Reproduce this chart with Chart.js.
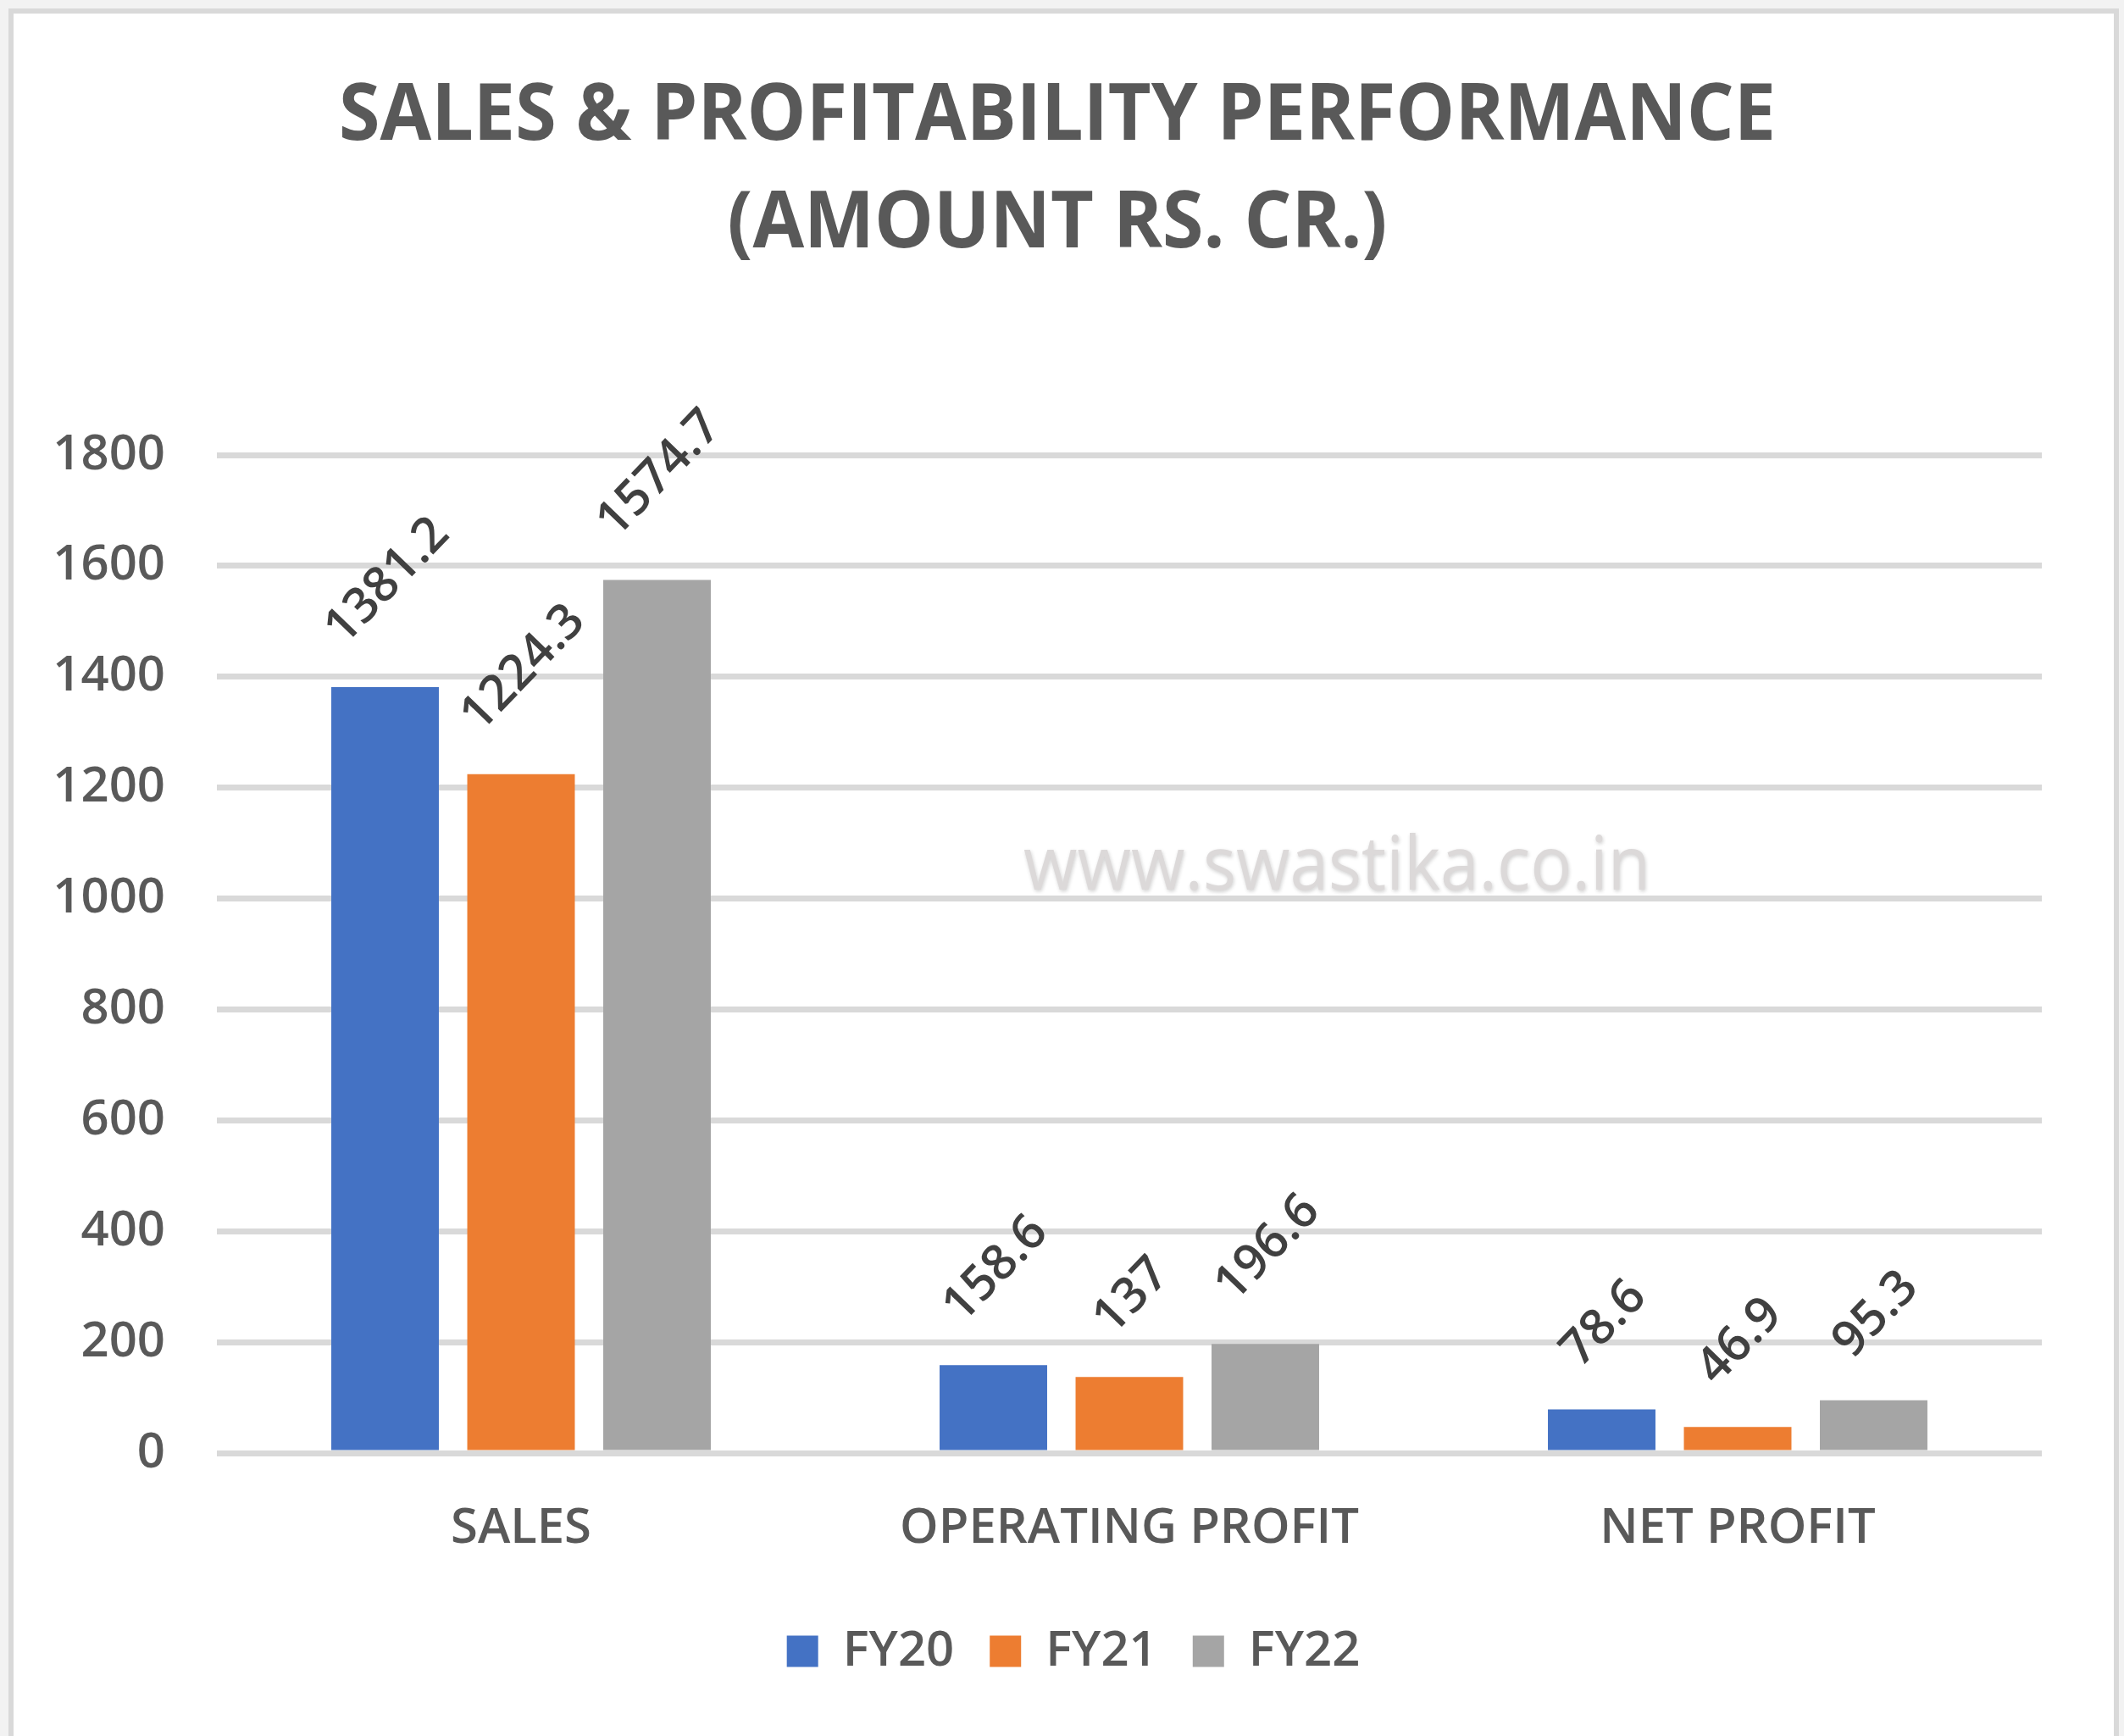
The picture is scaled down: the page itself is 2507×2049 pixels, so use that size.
<!DOCTYPE html>
<html><head><meta charset="utf-8">
<script src="https://cdn.jsdelivr.net/npm/chart.js@4.4.0/dist/chart.umd.min.js"></script>
<style>
html,body{margin:0;padding:0;background:#f2f2f2;width:2507px;height:2049px;overflow:hidden;}
#frame{position:absolute;left:10px;top:10px;width:2479px;height:2100px;border:6px solid #d9d9d9;background:#fff;}
#wrap{position:absolute;left:0;top:0;width:2507px;height:2049px;}
</style></head><body>
<div id="frame"></div>
<div id="wrap"><canvas id="c" width="2507" height="2049"></canvas></div>
<script>
const categories = ['SALES', 'OPERATING PROFIT', 'NET PROFIT'];
const seriesNames = ['FY20', 'FY21', 'FY22'];
const fy20 = [1381.2, 158.6, 78.6];
const fy21 = [1224.3, 137, 46.9];
const fy22 = [1574.7, 196.6, 95.3];
const titleLines = ['SALES & PROFITABILITY PERFORMANCE', '(AMOUNT RS. CR.)'];
const watermark = 'www.swastika.co.in';
const yMin = 0, yMax = 1800, yStep = 200;

const FONT = '"Open Sans", "Liberation Sans", sans-serif';
const colors = ['#4472c4', '#ed7d31', '#a5a5a5'];

const titlePlugin = {
  id: 'customTitle',
  afterDraw(chart) {
    const ctx = chart.ctx;
    ctx.save();
    ctx.font = 'bold 94px ' + FONT;
    ctx.fillStyle = '#595959';
    ctx.textAlign = 'center';
    ctx.textBaseline = 'alphabetic';
    const w1 = ctx.measureText(titleLines[0]).width;
    const sx = 1696 / w1;
    const cap = 94 * 0.714;
    const ys = [131, 258];
    titleLines.forEach((t, i) => {
      ctx.save();
      ctx.translate(1248, ys[i]);
      ctx.scale(sx, 1);
      ctx.fillText(t, 0, cap / 2);
      ctx.restore();
    });
    ctx.restore();
  }
};

const watermarkPlugin = {
  id: 'watermark',
  beforeDatasetsDraw(chart) {
    const ctx = chart.ctx;
    ctx.save();
    ctx.font = '88px ' + FONT;
    const w = ctx.measureText(watermark).width;
    const sx = 740 / w;
    ctx.translate(1208, 1050);
    ctx.scale(sx, 1);
    ctx.textAlign = 'left';
    ctx.textBaseline = 'alphabetic';
    ctx.shadowColor = 'rgba(0,0,0,0.18)';
    ctx.shadowBlur = 4;
    ctx.shadowOffsetX = 1;
    ctx.shadowOffsetY = 2;
    ctx.fillStyle = '#dcd9d9';
    ctx.fillText(watermark, 0, 0);
    ctx.restore();
  }
};

const labelPlugin = {
  id: 'rotLabels',
  afterDatasetsDraw(chart) {
    const ctx = chart.ctx;
    const a = 46 * Math.PI / 180;
    const fs = 58;
    const cap = fs * 0.714;
    const gap = 48;
    ctx.save();
    ctx.font = '600 ' + fs + 'px ' + FONT;
    ctx.fillStyle = '#404040';
    ctx.textAlign = 'center';
    ctx.textBaseline = 'alphabetic';
    chart.data.datasets.forEach((ds, di) => {
      const meta = chart.getDatasetMeta(di);
      meta.data.forEach((bar, i) => {
        const txt = String(ds.data[i]);
        const w = ctx.measureText(txt).width;
        const bh = w * Math.sin(a) + cap * Math.cos(a);
        const cx = bar.x, cy = bar.y - gap - bh / 2;
        ctx.save();
        ctx.translate(cx, cy);
        ctx.rotate(-a);
        ctx.fillText(txt, 0, cap / 2);
        ctx.restore();
      });
    });
    ctx.restore();
  }
};

const seriesData = [fy20, fy21, fy22];
const tickFont = { family: FONT, size: 58, weight: '600' };
new Chart(document.getElementById('c'), {
  type: 'bar',
  data: {
    labels: categories,
    datasets: seriesNames.map((n, i) => ({
      label: n,
      data: seriesData[i],
      backgroundColor: colors[i],
      borderWidth: 0,
      categoryPercentage: 0.6706,
      barPercentage: 0.791
    }))
  },
  options: {
    responsive: false,
    devicePixelRatio: 1,
    animation: false,
    layout: { padding: { top: 537, left: 58, right: 31, bottom: 61 } },
    plugins: {
      title: { display: false },
      tooltip: { enabled: false },
      legend: {
        display: true,
        position: 'bottom',
        labels: {
          font: tickFont,
          color: '#595959',
          boxWidth: 37,
          boxHeight: 37,
          padding: 42
        }
      }
    },
    scales: {
      x: {
        grid: { display: false, drawTicks: false },
        border: { display: false },
        ticks: { font: tickFont, color: '#595959', padding: 55, maxRotation: 0, autoSkip: false },
        afterFit(s) { s.height = 163; }
      },
      y: {
        min: yMin, max: yMax,
        grid: { color: '#d9d9d9', lineWidth: 7, drawTicks: false },
        border: { display: false },
        ticks: {
          stepSize: yStep,
          font: tickFont,
          color: '#595959',
          padding: 61,
          callback: v => String(v)
        },
        afterFit(s) { s.width = 256 - 58; }
      },
      ySpacer: {
        position: 'right',
        display: true,
        min: yMin, max: yMax,
        grid: { display: false, drawTicks: false },
        border: { display: false },
        ticks: { display: false },
        afterFit(s) { s.width = 97 - 31; }
      }
    }
  },
  plugins: [watermarkPlugin, labelPlugin, titlePlugin]
});
</script>
</body></html>
